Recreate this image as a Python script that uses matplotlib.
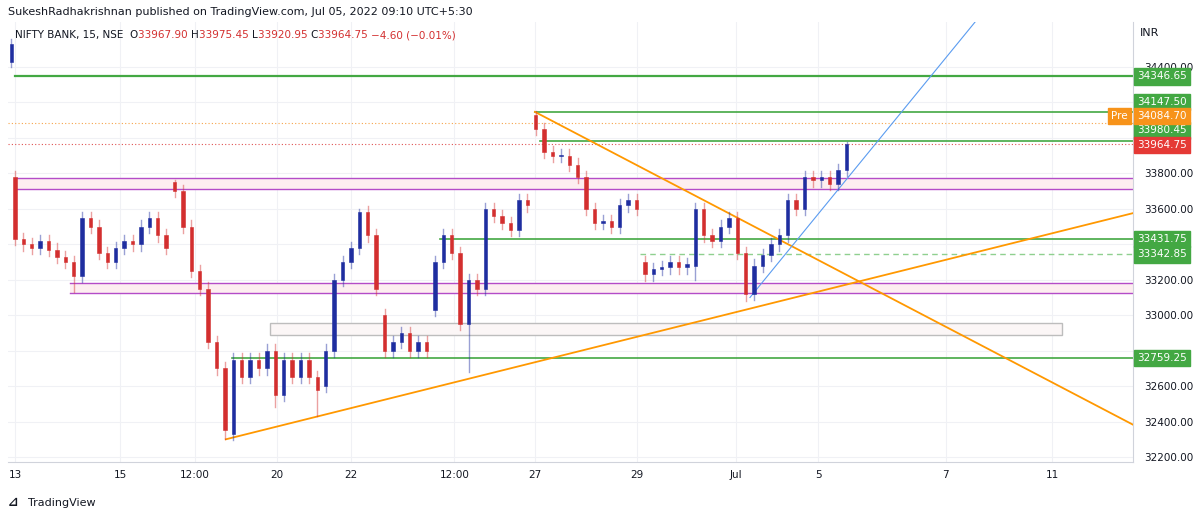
import matplotlib
matplotlib.use("Agg")
import matplotlib.pyplot as plt
from matplotlib.patches import Rectangle

# ---------------- data ----------------
tick_pos = [0, 12.5, 21.4, 31.2, 40, 52.3, 61.9, 74.0, 85.8, 95.6, 110.8, 123.5]
tick_labels = ["13", "15", "12:00", "20", "22", "12:00", "27", "29", "Jul", "5", "7", "11"]
price_ticks = [32200, 32400, 32600, 32800, 33000, 33200, 33400, 33600, 33800, 34000, 34200, 34400]
price_tick_labels = ["32200.00", "32400.00", "32600.00", "", "33000.00", "33200.00",
                     "", "33600.00", "33800.00", "", "", "34400.00"]

closes = [33430, 33400, 33380, 33420, 33370, 33330, 33300, 33220, 33550, 33500,
          33350, 33300, 33380, 33420, 33400, 33500, 33550, 33450, 33380, 33700,
          33500, 33250, 33150, 32850, 32700, 32350, 32750, 32650, 32750, 32700,
          32800, 32550, 32750, 32650, 32750, 32650, 32580, 32800, 33200, 33300,
          33380, 33580, 33450, 33150, 32800, 32850, 32900, 32800, 32850, 32800,
          33300, 33450, 33350, 32950, 33200, 33150, 33600, 33560, 33520, 33480,
          33650, 33620, 34050, 33920, 33900, 33900, 33850, 33780, 33600, 33520,
          33530, 33500, 33620, 33650, 33600, 33230, 33260, 33270, 33300, 33270,
          33290, 33600, 33450, 33420, 33500, 33550, 33350, 33120, 33280, 33340,
          33400, 33450, 33650, 33600, 33780, 33760, 33780, 33740, 33820, 33965]
gap_opens = {0: 33780, 19: 33750, 26: 32330, 37: 32600, 44: 33000, 50: 33030,
             56: 33150, 62: 34130, 68: 33780, 75: 33300, 81: 33280, 87: 33350}
special_lows = {7: 33130, 25: 32300, 31: 32480, 36: 32430, 54: 32680, 81: 33200, 87: 33080}
special_highs = {19: 33760, 41: 33600, 62: 34150, 99: 33976}
prev_candle = dict(x=-0.45, o=34430, h=34560, l=34400, c=34530)

levels_green = {34346.65: 0, 34147.50: 61.9, 33980.45: 62.5, 33431.75: 50.6, 32759.25: 25.8}
level_dashed = (33342.85, 74.4)
pre_price = 34084.70
last_price = 33964.75
pink_boxes = [(33712, 33774, 0.3), (33125, 33182, 6.5)]
grey_box = (32888, 32956, 30.4, 124.7)
orange_lines = [((25.1, 32300), (133.2, 33577)), ((61.9, 34147), (133.2, 32380))]
blue_line = ((87.5, 33100), (114.3, 34654))

UP = "#1f2ea0"
DN = "#d32f2f"

fig = plt.figure(figsize=(12, 5.18), dpi=100)
ax = fig.add_axes([8/1200, 1-462/518, (1133-8)/1200, (462-22)/518])
xmin, xmax = -0.83, 133.1
ymin, ymax = 32172, 34654
ax.set_xlim(xmin, xmax)
ax.set_ylim(ymin, ymax)

for t in tick_pos:
    ax.axvline(t, color="#f0f1f5", lw=0.8, zorder=0)
for p in price_ticks:
    ax.axhline(p, color="#f0f1f5", lw=0.8, zorder=0)

for lo, hi, x0 in pink_boxes:
    ax.add_patch(Rectangle((x0, lo), xmax - x0, hi - lo, facecolor="#fdeef0", edgecolor="none", zorder=1))
    ax.plot([x0, xmax], [lo, lo], color="#b44cc8", lw=1, zorder=2)
    ax.plot([x0, xmax], [hi, hi], color="#b44cc8", lw=1, zorder=2)
lo, hi, x0, x1 = grey_box
ax.add_patch(Rectangle((x0, lo), x1 - x0, hi - lo, facecolor="#fbf6f6", edgecolor="#bdbdbd", lw=1, zorder=1))

for p, x0 in levels_green.items():
    ax.plot([x0, xmax], [p, p], color="#43a843", lw=1.6 if x0 == 0 else 1.2, zorder=2)
ax.plot([level_dashed[1], xmax], [level_dashed[0]] * 2, color="#8fd08f", lw=1, ls=(0, (4, 3)), zorder=2)
ax.axhline(pre_price, color="#f7a44a", lw=0.8, ls=(0, (1, 2)), zorder=2)
ax.axhline(last_price, color="#e05252", lw=0.8, ls=(0, (1, 2)), zorder=2)

for (x0, y0), (x1, y1) in orange_lines:
    ax.plot([x0, x1], [y0, y1], color="#ff9800", lw=1.3, zorder=3)
ax.plot([blue_line[0][0], blue_line[1][0]], [blue_line[0][1], blue_line[1][1]], color="#5b9cf0", lw=0.8, zorder=3)

def candle(x, o, h, l, c):
    col = UP if c >= o else DN
    ax.plot([x, x], [l, h], color=col, alpha=0.45, lw=1, zorder=4)
    ax.add_patch(Rectangle((x - 0.2, min(o, c)), 0.4, max(abs(c - o), 4), facecolor=col, edgecolor=col, lw=0.4, zorder=5))

candle(prev_candle["x"], prev_candle["o"], prev_candle["h"], prev_candle["l"], prev_candle["c"])
prev = closes[0]
for i, c in enumerate(closes):
    o = gap_opens.get(i, prev)
    h = special_highs.get(i, max(o, c) + 35)
    l = special_lows.get(i, min(o, c) - 35)
    candle(i, o, h, l, c)
    prev = c

for s in ["top", "left"]:
    ax.spines[s].set_visible(False)
ax.spines["right"].set_color("#d0d3db")
ax.spines["bottom"].set_color("#d0d3db")
ax.yaxis.tick_right()
ax.set_yticks(price_ticks)
ax.set_yticklabels(price_tick_labels)
ax.set_xticks(tick_pos)
ax.set_xticklabels(tick_labels)
ax.tick_params(colors="#131722", labelsize=7.5, length=0, pad=6)
ax.tick_params(axis="y", pad=8)

def tag(price, text, col, dy_px=0):
    ax.annotate(text, xy=(1.0, price), xycoords=("axes fraction", "data"), xytext=(3, dy_px * 0.72),
                textcoords="offset points", va="center", ha="left", fontsize=7.5, color="white",
                bbox=dict(boxstyle="square,pad=0.3", fc=col, ec=col), annotation_clip=False, zorder=10)

tag_shift = {34147.50: 10, 33980.45: 11}
for p in levels_green:
    tag(p, f"{p:.2f}", "#43a843", tag_shift.get(p, 0))
tag(level_dashed[0], f"{level_dashed[0]:.2f}", "#43a843")
tag(pre_price, f"{pre_price:.2f}", "#f7931a", 7)
tag(last_price, f"{last_price:.2f}", "#e53935", -1)
ax.annotate("Pre", xy=(1.0, pre_price), xycoords=("axes fraction", "data"), xytext=(-4, 7 * 0.72),
            textcoords="offset points", va="center", ha="right", fontsize=7.5, color="white",
            bbox=dict(boxstyle="square,pad=0.3", fc="#f7931a", ec="#f7931a"), annotation_clip=False)
fig.text(1140/1200, 1-33/518, "INR", fontsize=8, color="#131722", va="center")

fig.text(8/1200, 1-12/518, "SukeshRadhakrishnan published on TradingView.com, Jul 05, 2022 09:10 UTC+5:30",
         fontsize=8, color="#131722", va="center")
parts = [("NIFTY BANK, 15, NSE  ", "#131722"), ("O", "#131722"), ("33967.90 ", DN), ("H", "#131722"),
         ("33975.45 ", DN), ("L", "#131722"), ("33920.95 ", DN), ("C", "#131722"),
         ("33964.75 ", DN), ("−4.60 (−0.01%)", DN)]
fig.canvas.draw()
r = fig.canvas.get_renderer()
xpos = 15 / 1200
for txt, col in parts:
    t = fig.text(xpos, 1-35/518, txt, fontsize=7.5, color=col, va="center")
    bb = t.get_window_extent(renderer=r)
    xpos += bb.width / 1200
fig.text(8/1200, 1-503/518, "⊿", fontsize=9, color="#131722", va="center", fontweight="bold")
fig.text(28/1200, 1-503/518, "TradingView", fontsize=8, color="#131722", va="center")

fig.savefig("out.png", dpi=100, facecolor="white")
